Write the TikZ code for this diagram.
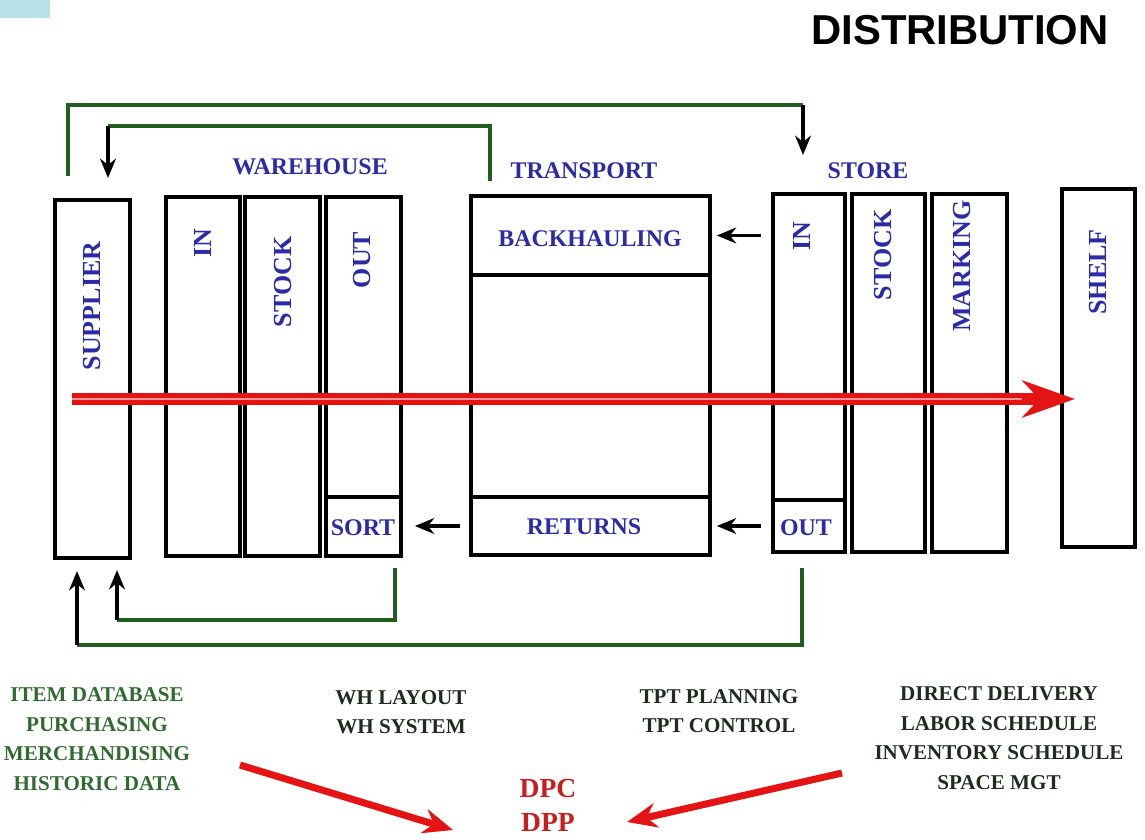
\documentclass[tikz,border=0pt]{standalone}
\usepackage{fontspec}
\setmainfont{Liberation Serif}
\newfontfamily\titlefont{Liberation Sans}
\usetikzlibrary{arrows.meta}

\definecolor{lblue}{HTML}{2B2BA8}
\definecolor{fgreen}{HTML}{1F5E1F}
\definecolor{tgreen}{HTML}{2F6B2F}
\definecolor{tdark}{HTML}{1E2B1E}
\definecolor{fred}{HTML}{E41414}
\definecolor{dred}{HTML}{C81E1E}
\definecolor{corner}{HTML}{B9E0E6}

\tikzset{
  box/.style={draw, line width=2.2pt, inner sep=0pt},
  lbl/.style={text=lblue, font=\bfseries\fontsize{13.6}{16}\selectfont, inner sep=0pt},
  vlbl/.style={lbl, rotate=90, font=\bfseries\fontsize{14.8}{16}\selectfont},
  feed/.style={fgreen, line width=2pt},
  tip/.style={-{Stealth[length=11pt,width=9pt]}, line width=2.1pt},
  note/.style={align=center, font=\bfseries\fontsize{12}{16.8}\selectfont, inner sep=0pt},
  hint/.style={fred, line width=4pt, -{Stealth[length=17pt,width=14pt]}},
}

\begin{document}
\begin{tikzpicture}[x=0.02cm, y=-0.02cm]
  \useasboundingbox (0,0) rectangle (1145,839);
  \fill[corner] (0,0) rectangle (50,18);

  \node[font=\titlefont\bfseries\fontsize{23.8}{28}\selectfont, inner sep=0pt] (title) at (960,30) {DISTRIBUTION};

  % boxes
  \node[box, minimum width=1.5cm, minimum height=7.16cm] (supplier) at (92.5,379) {};
  \node[box, minimum width=1.48cm, minimum height=7.18cm] (whin) at (203,376.5) {};
  \node[box, minimum width=1.5cm, minimum height=7.18cm] (whstock) at (282.5,376.5) {};
  \node[box, minimum width=1.5cm, minimum height=7.18cm] (whout) at (363.5,376.5) {};
  \node[box, minimum width=1.5cm, minimum height=1.18cm] (sort) at (363.5,526.5) {};
  \node[box, minimum width=4.78cm, minimum height=7.18cm] (transport) at (590.5,375.5) {};
  \node[box, minimum width=4.78cm, minimum height=1.58cm] (backhaul) at (590.5,235.5) {};
  \node[box, minimum width=4.78cm, minimum height=1.16cm] (returns) at (590.5,526) {};
  \node[box, minimum width=1.44cm, minimum height=7.16cm] (stin) at (809,373) {};
  \node[box, minimum width=1.44cm, minimum height=1.04cm] (stout) at (809,526) {};
  \node[box, minimum width=1.46cm, minimum height=7.16cm] (ststock) at (888.5,373) {};
  \node[box, minimum width=1.5cm, minimum height=7.16cm] (marking) at (969.5,373) {};
  \node[box, minimum width=1.46cm, minimum height=7.16cm] (shelf) at (1098.5,368) {};

  % labels
  \node[lbl] (whlabel) at (310,167) {WAREHOUSE};
  \node[lbl] (tptlabel) at (584,171) {TRANSPORT};
  \node[lbl] (stlabel) at (868,171) {STORE};
  \node[lbl] (backlabel) at (590,239) {BACKHAULING};
  \node[lbl] (retlabel) at (584,527) {RETURNS};
  \node[lbl] (sortlabel) at (363,528) {SORT};
  \node[lbl] (outlabel) at (806,528) {OUT};
  \node[vlbl] (suplabel) at (92,306) {SUPPLIER};
  \node[vlbl] (whinlabel) at (203,243) {IN};
  \node[vlbl] (whstlabel) at (283,282) {STOCK};
  \node[vlbl] (whoutlabel) at (362,260) {OUT};
  \node[vlbl] (stinlabel) at (802,236) {IN};
  \node[vlbl] (ststlabel) at (883,255) {STOCK};
  \node[vlbl] (marklabel) at (962,266) {MARKING};
  \node[vlbl] (shelflabel) at (1098,272) {SHELF};

  % green feedback loops
  \coordinate (loopa) at (68,176);
  \coordinate (loopa end) at (803,105);
  \coordinate (loopa tip) at (803,155);
  \coordinate (loopb) at (490,181);
  \coordinate (loopb end) at (108,126);
  \coordinate (loopb tip) at (108,178);
  \coordinate (loopc) at (395,568);
  \coordinate (loopc end) at (117,620);
  \coordinate (loopc tip) at (117,570);
  \coordinate (loopd) at (802,568);
  \coordinate (loopd end) at (77,645);
  \coordinate (loopd tip) at (77,571);
  \draw[feed] (loopa) |- (loopa end);
  \draw[feed] (loopb) |- (loopb end);
  \draw[feed] (loopc) |- (loopc end);
  \draw[feed] (loopd) |- (loopd end);
  \foreach \l in {loopa, loopb, loopc, loopd}
    \draw[tip] (\l\space end) -- (\l\space tip);

  % back arrows
  \draw[tip, shorten <=5.5pt, shorten >=2.8pt] (stin.west |- backhaul.east) -- (backhaul.east);
  \draw[tip, shorten <=5.5pt, shorten >=2.8pt] (stout.west) -- (returns.east |- stout.west);
  \draw[tip, shorten <=5pt, shorten >=6.8pt] (returns.west) -- (sort.east |- returns.west);

  % main flow
  \coordinate (flow start) at (72,399);
  \coordinate (flow end) at (1075,399);
  \coordinate (flow head) at (1022,399);
  \draw[fred, line width=6.5pt, -{Stealth[length=30pt,width=21pt]}] (flow start) -- (flow end);
  \draw[fred!45, line width=1.6pt] (flow start) -- (flow head);

  % bottom notes
  \node[note, text=tgreen] (data) at (97,739) {ITEM DATABASE\\PURCHASING\\MERCHANDISING\\HISTORIC DATA};
  \node[note, text=tdark] (whsys) at (401,712) {WH LAYOUT\\WH SYSTEM};
  \node[note, text=tdark] (tptsys) at (719,711) {TPT PLANNING\\TPT CONTROL};
  \node[note, text=tdark] (stsys) at (999,738) {DIRECT DELIVERY\\LABOR SCHEDULE\\INVENTORY SCHEDULE\\SPACE MGT};
  \node[align=center, text=dred, inner sep=0pt, font=\bfseries\fontsize{15.7}{19.3}\selectfont] (dpc) at (548,805) {DPC\\DPP};

  \coordinate (left in) at (240,765);
  \coordinate (left tip) at (453,830);
  \coordinate (right in) at (842,773);
  \coordinate (right tip) at (627,822);
  \draw[hint] (left in) -- (left tip);
  \draw[hint] (right in) -- (right tip);
\end{tikzpicture}
\end{document}
